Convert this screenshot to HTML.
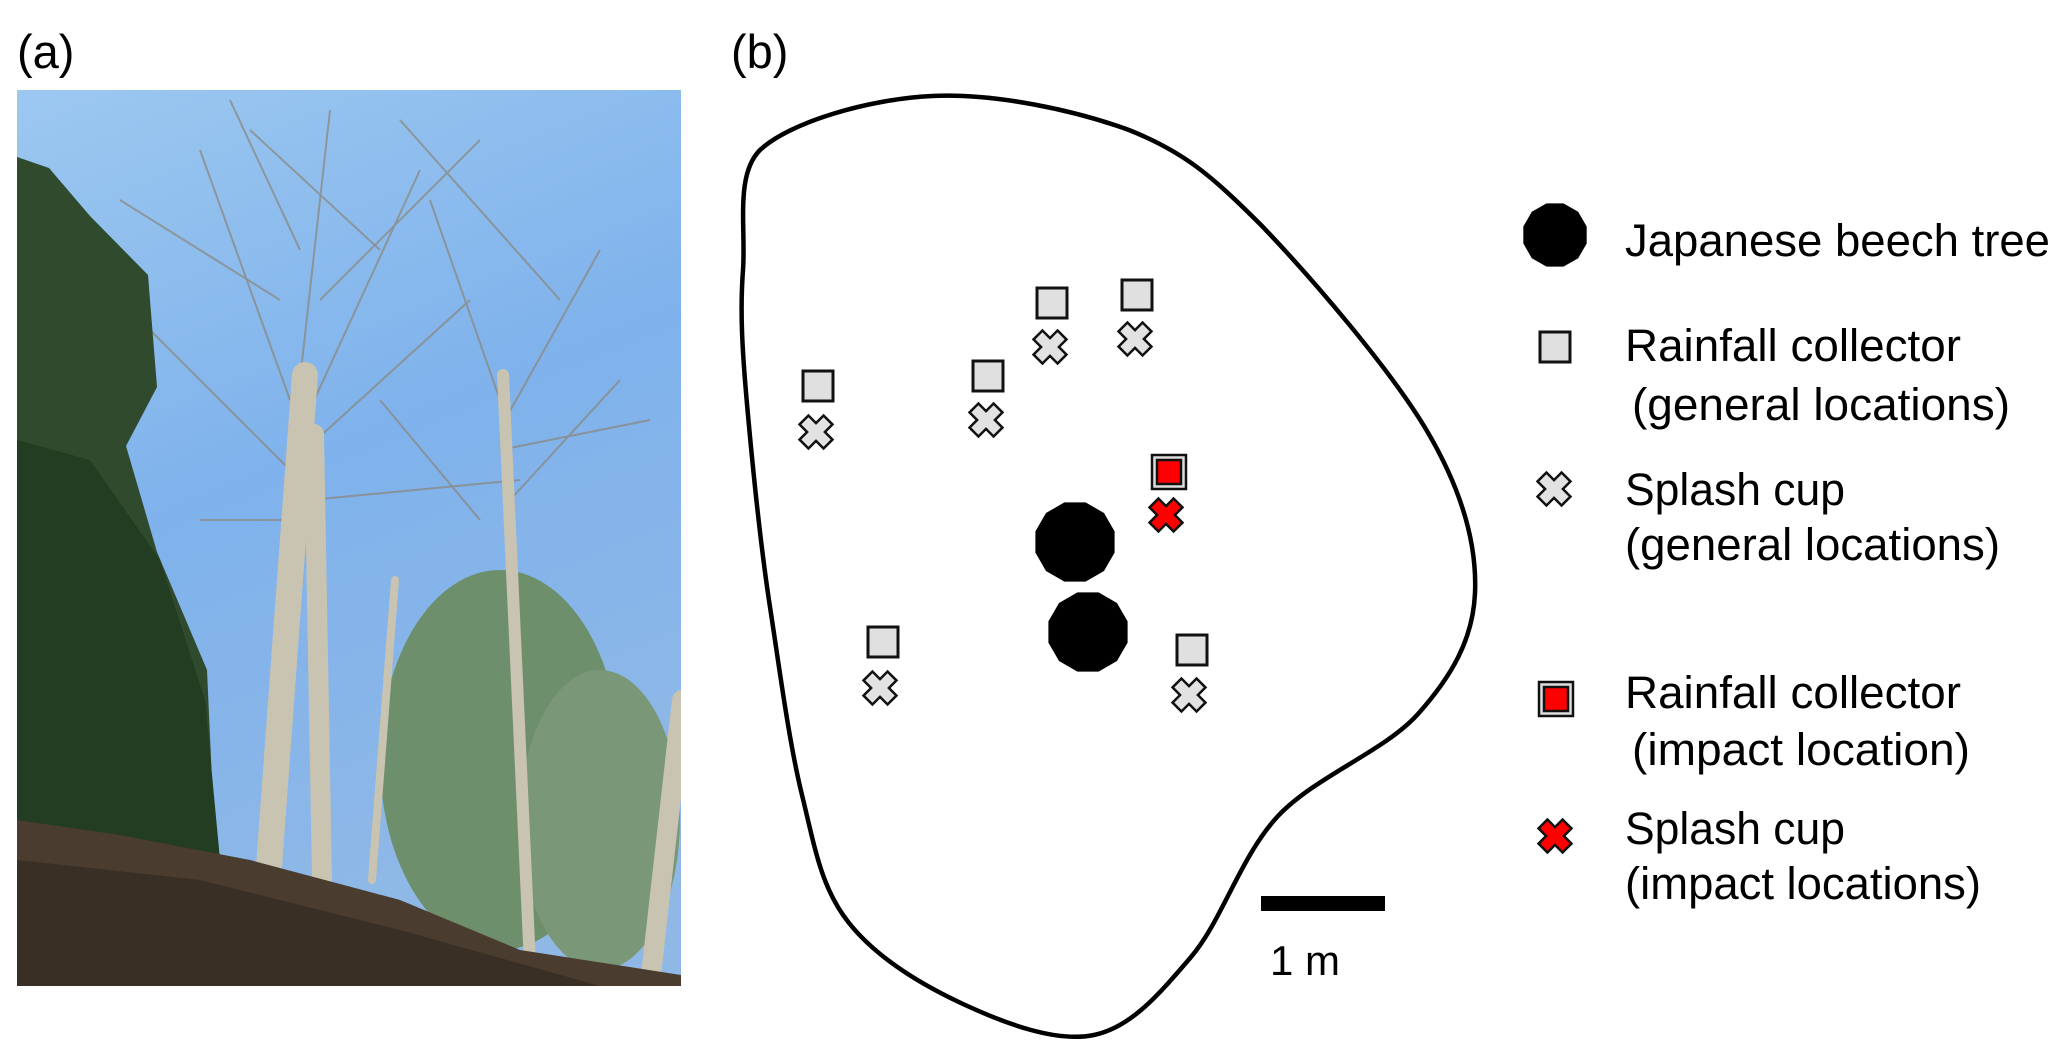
<!DOCTYPE html>
<html><head><meta charset="utf-8"><style>
html,body{margin:0;padding:0;background:#fff}
svg{display:block}
text{font-family:"Liberation Sans",Arial,sans-serif;fill:#000}
</style></head><body>
<svg width="2067" height="1051" viewBox="0 0 2067 1051" xmlns="http://www.w3.org/2000/svg">
<defs>
<linearGradient id="sky" x1="0" y1="0" x2="0.3" y2="1">
<stop offset="0" stop-color="#9cc8f0"/><stop offset="0.5" stop-color="#7fb2ec"/><stop offset="1" stop-color="#8fb8e6"/>
</linearGradient>
<clipPath id="ph"><rect x="17" y="90" width="664" height="896"/></clipPath>
<polygon id="dod" points="39.6,10.6 29,29 10.6,39.6 -10.6,39.6 -29,29 -39.6,10.6 -39.6,-10.6 -29,-29 -10.6,-39.6 10.6,-39.6 29,-29 39.6,-10.6"/>
<polygon id="xs" transform="rotate(45)" points="-6.3,-17 6.3,-17 6.3,-6.3 17,-6.3 17,6.3 6.3,6.3 6.3,17 -6.3,17 -6.3,6.3 -17,6.3 -17,-6.3 -6.3,-6.3"/>
<g id="gx"><use href="#xs" fill="#e2e2e2" stroke="#111" stroke-width="2.5"/></g>
<g id="rx"><use href="#xs" fill="#ff0000" stroke="#111" stroke-width="2.5"/></g>
<g id="gs"><rect x="-15" y="-15" width="30" height="30" fill="#e0e0e0" stroke="#111" stroke-width="3"/></g>
<g id="rs"><rect x="-17" y="-17" width="34" height="34" fill="#ddd" stroke="#111" stroke-width="2.5"/><rect x="-12" y="-12" width="24" height="24" fill="#ff0000" stroke="#111" stroke-width="2.5"/></g>
</defs>

<text x="17" y="68" font-size="47">(a)</text>
<text x="731" y="68" font-size="47">(b)</text>

<!-- photo -->
<g clip-path="url(#ph)">
<rect x="17" y="90" width="664" height="896" fill="url(#sky)"/>
<g stroke="#8a8578" stroke-width="2" fill="none" opacity="0.7">
<path d="M290 400 L200 150 M300 380 L330 110 M305 420 L420 170 M305 450 L470 300 M290 470 L150 330 M310 500 L520 480 M500 400 L430 200 M505 420 L600 250 M500 450 L650 420 M320 520 L200 520 M250 130 L380 250 M400 120 L560 300 M280 300 L120 200 M300 250 L230 100 M320 300 L480 140 M510 500 L620 380 M480 520 L380 400"/>
</g>
<ellipse cx="500" cy="760" rx="120" ry="190" fill="#6e8f6c"/>
<ellipse cx="600" cy="820" rx="80" ry="150" fill="#7a9878"/>
<polygon points="17,157 49,168 90,216 148,275 157,387 126,446 157,552 207,670 215,847 17,847" fill="#2f4a2c"/>
<polygon points="17,440 90,460 160,560 205,700 220,860 17,860" fill="#233d22"/>
<g stroke="#c9c3b2" stroke-linecap="round">
<line x1="268" y1="880" x2="305" y2="375" stroke-width="26"/>
<line x1="323" y1="935" x2="314" y2="434" stroke-width="20"/>
<line x1="530" y1="965" x2="503" y2="375" stroke-width="12"/>
<line x1="651" y1="975" x2="682" y2="700" stroke-width="20"/>
<line x1="372" y1="880" x2="395" y2="580" stroke-width="8"/>
</g>
<polygon points="17,820 120,835 250,860 400,900 520,950 681,975 681,986 17,986" fill="#4a3c2e"/>
<polygon points="17,860 200,880 400,930 600,986 17,986" fill="#3a2f24"/>
</g>

<!-- outline -->
<path d="M760,150 C790,122 869,99 932,96 C994.7,93 1074,110 1129,130 C1184,152 1211,175 1261,225 C1311,277 1391,370 1427,431 C1463,492 1477,546 1475,593 C1473,640 1451,677 1418,714 C1385,751 1316,776 1278,816 C1240,857 1222,921 1191,957 C1160,993 1132,1027 1094,1035 C1056,1043 1004,1023 963,1004 C922,985 877,958 849,923 C821,888 815,848 802,795 C789,742 780,672 770,607 C760,542 752,460 747,404 C742,348 740,310 743,270 C746,228 735,175 760,150 Z" fill="none" stroke="#000" stroke-width="4.5"/>

<!-- markers -->
<use href="#gs" x="818" y="386"/><use href="#gx" x="816" y="432"/>
<use href="#gs" x="988" y="376"/><use href="#gx" x="986" y="420"/>
<use href="#gs" x="1052" y="303"/><use href="#gx" x="1050" y="347"/>
<use href="#gs" x="1137" y="295"/><use href="#gx" x="1135" y="339"/>
<use href="#gs" x="883" y="642"/><use href="#gx" x="880" y="688"/>
<use href="#gs" x="1192" y="650"/><use href="#gx" x="1189" y="695"/>
<use href="#rs" x="1169" y="472"/><use href="#rx" x="1166" y="515"/>
<use href="#dod" x="1075" y="542" fill="#000"/>
<use href="#dod" x="1088" y="632" fill="#000"/>

<!-- scale bar -->
<rect x="1261" y="896" width="124" height="15" fill="#000"/>
<text x="1270" y="975" font-size="42">1 m</text>

<!-- legend -->
<g transform="translate(1555,235) scale(0.8)"><use href="#dod" fill="#000"/></g>
<use href="#gs" x="1555" y="347"/>
<use href="#gx" x="1554" y="489"/>
<use href="#rs" x="1556" y="699"/>
<use href="#rx" x="1555" y="836"/>
<g font-size="45">
<text x="1625" y="256" textLength="425" lengthAdjust="spacingAndGlyphs">Japanese beech tree</text>
<text x="1625" y="361" textLength="336" lengthAdjust="spacingAndGlyphs">Rainfall collector</text>
<text x="1632" y="420" textLength="378" lengthAdjust="spacingAndGlyphs">(general locations)</text>
<text x="1625" y="505" textLength="220" lengthAdjust="spacingAndGlyphs">Splash cup</text>
<text x="1625" y="560" textLength="375" lengthAdjust="spacingAndGlyphs">(general locations)</text>
<text x="1625" y="708" textLength="336" lengthAdjust="spacingAndGlyphs">Rainfall collector</text>
<text x="1632" y="765" textLength="338" lengthAdjust="spacingAndGlyphs">(impact location)</text>
<text x="1625" y="844" textLength="220" lengthAdjust="spacingAndGlyphs">Splash cup</text>
<text x="1625" y="899" textLength="356" lengthAdjust="spacingAndGlyphs">(impact locations)</text>
</g>
</svg>
</body></html>
